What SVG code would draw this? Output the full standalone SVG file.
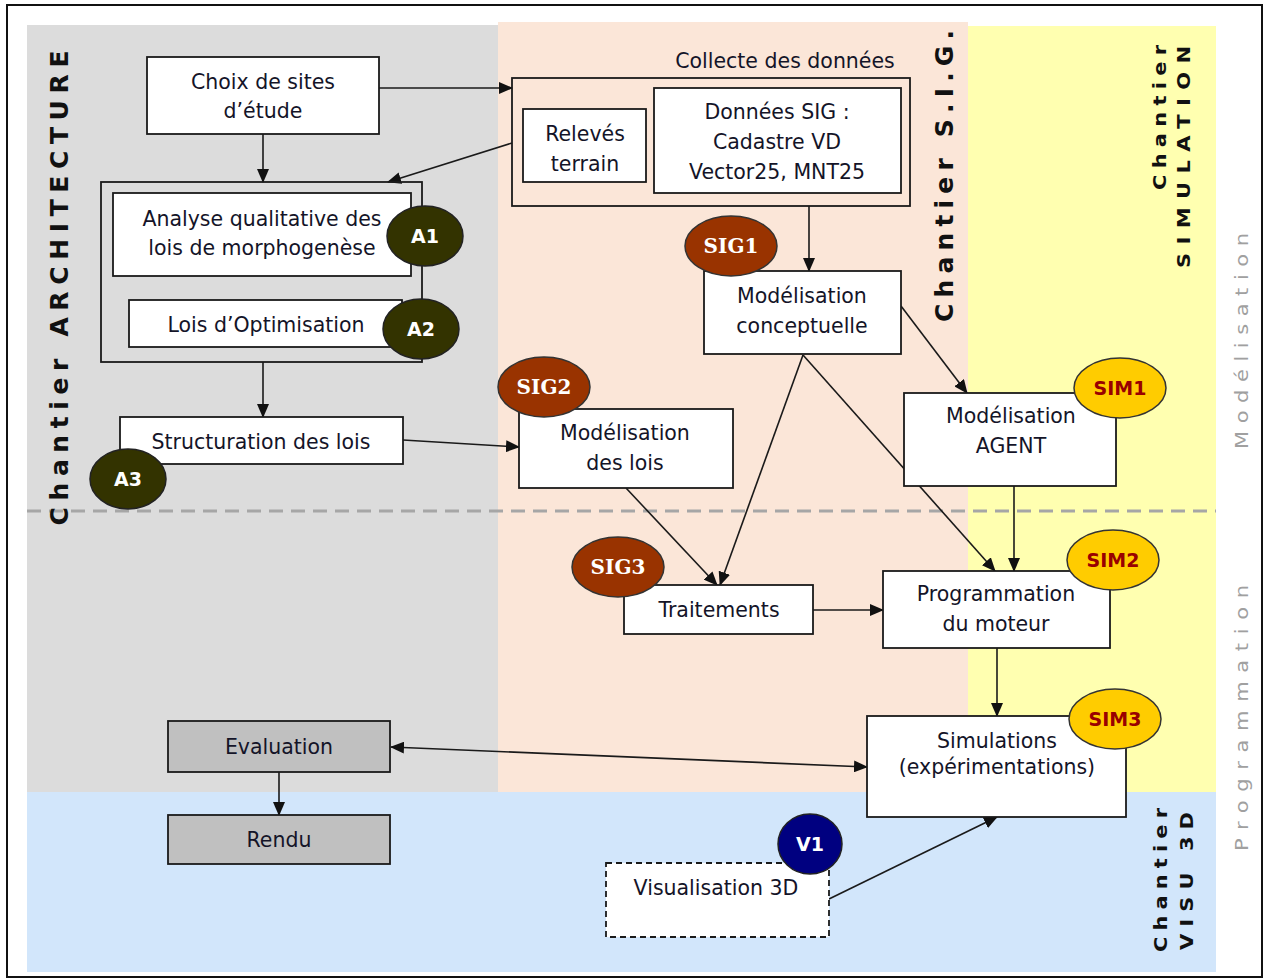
<svg xmlns="http://www.w3.org/2000/svg" width="1264" height="980" viewBox="0 0 1264 980">
<defs>
<style>
.box{fill:#fff;stroke:#1a1a1a;stroke-width:1.8}
.grp{fill:none;stroke:#1a1a1a;stroke-width:1.8}
.gbox{fill:#c0c0c0;stroke:#1a1a1a;stroke-width:1.8}
.t{font-family:"DejaVu Sans",Verdana,sans-serif;font-size:20.5px;fill:#141428;text-anchor:middle}
.con{fill:none;stroke:#1a1a1a;stroke-width:1.6;marker-end:url(#ah)}
.vl{font-family:"DejaVu Sans",Verdana,sans-serif;font-weight:bold;fill:#111}
.pl{font-family:"DejaVu Sans",Verdana,sans-serif;fill:#a0a0a0;font-size:21px}
.ba{fill:#333300;stroke:#222;stroke-width:1.5}
.bs{fill:#993300;stroke:#333;stroke-width:1.5}
.bm{fill:#ffcc00;stroke:#333;stroke-width:1.5}
.bv{fill:#000080;stroke:#222;stroke-width:1.5}
.bt{font-family:"DejaVu Sans",Verdana,sans-serif;font-weight:bold;font-size:19px;fill:#fff;text-anchor:middle}
.bst{font-family:"DejaVu Serif",Georgia,serif;font-weight:bold;font-size:20px;fill:#fff;text-anchor:middle}
.bmt{font-family:"DejaVu Sans",Verdana,sans-serif;font-weight:bold;font-size:19px;fill:#990000;text-anchor:middle}
</style>
<marker id="ah" markerUnits="userSpaceOnUse" markerWidth="14" markerHeight="12" refX="13" refY="6" orient="auto-start-reverse" viewBox="0 0 14 12">
<path d="M0,0 L14,6 L0,12 z" fill="#111"/>
</marker>
</defs>
<rect x="0" y="0" width="1264" height="980" fill="#fff"/>
<rect x="7" y="5" width="1255" height="972" fill="none" stroke="#111" stroke-width="2"/>
<g id="backgrounds">
<rect x="27" y="25" width="471" height="767" fill="#dcdcdc"/>
<rect x="498" y="22" width="470" height="770" fill="#fbe6d8"/>
<rect x="968" y="26" width="248" height="766" fill="#ffffb0"/>
<rect x="27" y="792" width="1189" height="180" fill="#d2e6fb"/>
<line x1="27" y1="511" x2="1216" y2="511" stroke="#a6a6a6" stroke-width="3" stroke-dasharray="14 8"/>
</g>
<g id="labels">
<text class="vl" font-size="25" transform="translate(68,288) rotate(-90)" text-anchor="middle" textLength="475" lengthAdjust="spacing">Chantier ARCHITECTURE</text>
<text class="vl" font-size="25" transform="translate(953,176) rotate(-90)" text-anchor="middle" textLength="292" lengthAdjust="spacing">Chantier S.I.G.</text>
<text class="vl" font-size="21" transform="translate(1166,45) rotate(-90) scale(1,0.85)" text-anchor="end" textLength="145" lengthAdjust="spacing">Chantier</text>
<text class="vl" font-size="21" transform="translate(1190,46) rotate(-90) scale(1,0.85)" text-anchor="end" textLength="222" lengthAdjust="spacing">SIMULATION</text>
<text class="vl" font-size="21" transform="translate(1167,952) rotate(-90) scale(1,0.85)" text-anchor="start" textLength="144" lengthAdjust="spacing">Chantier</text>
<text class="vl" font-size="21" transform="translate(1193,950) rotate(-90) scale(1,0.85)" text-anchor="start" textLength="138" lengthAdjust="spacing">VISU 3D</text>
<text class="pl" transform="translate(1248,341) rotate(-90) scale(1,0.85)" text-anchor="middle" textLength="216" lengthAdjust="spacing">Modélisation</text>
<text class="pl" transform="translate(1248,718) rotate(-90) scale(1,0.85)" text-anchor="middle" textLength="266" lengthAdjust="spacing">Programmation</text>
<text class="t" x="785" y="68">Collecte des données</text>
</g>
<g id="connectors">
<line class="con" x1="379" y1="88" x2="512" y2="88"/>
<line class="con" x1="263" y1="134" x2="263" y2="182"/>
<line class="con" x1="512" y1="143" x2="388" y2="182"/>
<line class="con" x1="263" y1="362" x2="263" y2="417"/>
<line class="con" x1="403" y1="440" x2="519" y2="447"/>
<line class="con" x1="809" y1="206" x2="809" y2="271"/>
<line class="con" x1="901" y1="306" x2="967" y2="393"/>
<line class="con" x1="803" y1="355" x2="720" y2="585"/>
<line class="con" x1="803" y1="355" x2="995" y2="571"/>
<line class="con" x1="626" y1="488" x2="717" y2="585"/>
<line class="con" x1="813" y1="610" x2="883" y2="610"/>
<line class="con" x1="1014" y1="486" x2="1014" y2="571"/>
<line class="con" x1="997" y1="648" x2="997" y2="716"/>
<line class="con" x1="391" y1="747" x2="867" y2="767" marker-start="url(#ah)"/>
<line class="con" x1="279" y1="772" x2="279" y2="815"/>
<line class="con" x1="829" y1="899" x2="997" y2="817"/>
</g>
<g id="choix"><rect class="box" x="147" y="57" width="232" height="77"/><text class="t" x="263" y="89">Choix de sites</text><text class="t" x="263" y="118">d’étude</text></g>
<g id="groupA"><rect class="grp" x="101" y="182" width="321" height="180"/></g>
<g id="analyse"><rect class="box" x="113" y="193" width="298" height="83"/><text class="t" x="262" y="226">Analyse qualitative des</text><text class="t" x="262" y="255">lois de morphogenèse</text></g>
<g id="optim"><rect class="box" x="129" y="300" width="273" height="47"/><text class="t" x="266" y="332">Lois d’Optimisation</text></g>
<g id="structuration"><rect class="box" x="120" y="417" width="283" height="47"/><text class="t" x="261" y="449">Structuration des lois</text></g>
<g id="collecte"><rect class="grp" x="512" y="78" width="398" height="128"/></g>
<g id="releves"><rect class="box" x="523" y="109" width="123" height="73"/><text class="t" x="585" y="141">Relevés</text><text class="t" x="585" y="171">terrain</text></g>
<g id="donnees"><rect class="box" x="654" y="88" width="247" height="105"/><text class="t" x="777" y="119">Données SIG :</text><text class="t" x="777" y="149">Cadastre VD</text><text class="t" x="777" y="179">Vector25, MNT25</text></g>
<g id="modconc"><rect class="box" x="704" y="271" width="197" height="83"/><text class="t" x="802" y="303">Modélisation</text><text class="t" x="802" y="333">conceptuelle</text></g>
<g id="modlois"><rect class="box" x="519" y="409" width="214" height="79"/><text class="t" x="625" y="440">Modélisation</text><text class="t" x="625" y="470">des lois</text></g>
<g id="traitements"><rect class="box" x="624" y="585" width="189" height="49"/><text class="t" x="719" y="617">Traitements</text></g>
<g id="agent"><rect class="box" x="904" y="393" width="212" height="93"/><text class="t" x="1011" y="423">Modélisation</text><text class="t" x="1011" y="453">AGENT</text></g>
<g id="programmation"><rect class="box" x="883" y="571" width="227" height="77"/><text class="t" x="996" y="601">Programmation</text><text class="t" x="996" y="631">du moteur</text></g>
<g id="simulations"><rect class="box" x="867" y="716" width="259" height="101"/><text class="t" x="997" y="748">Simulations</text><text class="t" x="997" y="774">(expérimentations)</text></g>
<g id="evaluation"><rect class="gbox" x="168" y="721" width="222" height="51"/><text class="t" x="279" y="754">Evaluation</text></g>
<g id="rendu"><rect class="gbox" x="168" y="815" width="222" height="49"/><text class="t" x="279" y="847">Rendu</text></g>
<g id="visu"><rect x="606" y="863" width="223" height="74" fill="#fff" stroke="#1a1a1a" stroke-width="1.8" stroke-dasharray="6 4"/><text class="t" x="716" y="895">Visualisation 3D</text></g>
<g id="A1"><ellipse class="ba" cx="425" cy="236" rx="38" ry="30"/><text class="bt" x="425" y="243">A1</text></g>
<g id="A2"><ellipse class="ba" cx="421" cy="329" rx="38" ry="30"/><text class="bt" x="421" y="336">A2</text></g>
<g id="A3"><ellipse class="ba" cx="128" cy="479" rx="38" ry="30"/><text class="bt" x="128" y="486">A3</text></g>
<g id="SIG1"><ellipse class="bs" cx="731" cy="246" rx="46" ry="30"/><text class="bst" x="731" y="253">SIG1</text></g>
<g id="SIG2"><ellipse class="bs" cx="544" cy="387" rx="46" ry="30"/><text class="bst" x="544" y="394">SIG2</text></g>
<g id="SIG3"><ellipse class="bs" cx="618" cy="567" rx="46" ry="30"/><text class="bst" x="618" y="574">SIG3</text></g>
<g id="SIM1"><ellipse class="bm" cx="1120" cy="388" rx="46" ry="30"/><text class="bmt" x="1120" y="395">SIM1</text></g>
<g id="SIM2"><ellipse class="bm" cx="1113" cy="560" rx="46" ry="30"/><text class="bmt" x="1113" y="567">SIM2</text></g>
<g id="SIM3"><ellipse class="bm" cx="1115" cy="719" rx="46" ry="30"/><text class="bmt" x="1115" y="726">SIM3</text></g>
<g id="V1"><ellipse class="bv" cx="810" cy="844" rx="32" ry="30"/><text class="bt" x="810" y="851">V1</text></g>
</svg>
